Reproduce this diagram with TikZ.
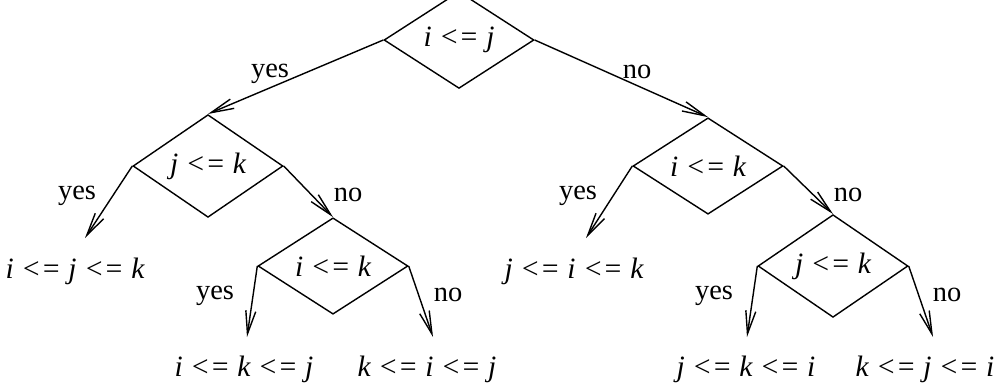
\documentclass[tikz,border=0pt]{standalone}
\usepackage{fontspec}
\setmainfont{Liberation Serif}
\usepackage{tikz}
\usetikzlibrary{
  arrows.meta,
  shapes.geometric,
  positioning
}

\begin{document}
\begin{tikzpicture}[
  x=0.02cm, y=-0.02cm,
  test/.style={diamond, draw=black, line width=0.8pt, inner sep=0pt,
               minimum width=3cm, minimum height=1.48cm,
               font=\fontsize{16.8}{19}\selectfont\itshape},
  leaf/.style={anchor=base, inner sep=0pt,
               font=\fontsize{16.8}{19}\selectfont\itshape},
  answer/.style={inner sep=0pt, font=\fontsize{16.2}{19}\selectfont},
  arr/.style={-{Straight Barb[length=0.46cm, width=0.2cm]}, line width=0.8pt}
]
  \useasboundingbox (0,0) rectangle (1000,383);

  % comparisons
  \node[test] (root) at (459, 40) {i <= j};
  \node[test] (jk)   at (208,166) {j <= k};
  \node[test] (ik)   at (333,266) {i <= k};
  \node[test] (ikr)  at (708,166) {i <= k};
  \node[test] (jkr)  at (833,266) {j <= k};

  % orderings
  \node[leaf] (ijk) at ( 75,278) {i <= j <= k};
  \node[leaf] (ikj) at (244,376) {i <= k <= j};
  \node[leaf] (kij) at (427,376) {k <= i <= j};
  \node[leaf] (jik) at (574,278) {j <= i <= k};
  \node[leaf] (jki) at (746,376) {j <= k <= i};
  \node[leaf] (kji) at (925,376) {k <= j <= i};

  \coordinate (ijk-in) at ( 85,238);
  \coordinate (ikj-in) at (247,337);
  \coordinate (kij-in) at (433,337);
  \coordinate (jik-in) at (586,238);
  \coordinate (jki-in) at (747,337);
  \coordinate (kji-in) at (933,337);

  \draw[arr] (root.west) -- (jk.north);
  \draw[arr] (root.east) -- (ikr.north);
  \draw[arr] (jk.west)   -- (ijk-in);
  \draw[arr] (jk.east)   -- (ik.north);
  \draw[arr] (ik.west)   -- (ikj-in);
  \draw[arr] (ik.east)   -- (kij-in);
  \draw[arr] (ikr.west)  -- (jik-in);
  \draw[arr] (ikr.east)  -- (jkr.north);
  \draw[arr] (jkr.west)  -- (jki-in);
  \draw[arr] (jkr.east)  -- (kji-in);

  % branch labels
  \node[answer] (yes1) at (270, 74) {yes};
  \node[answer] (no1)  at (637, 72) {no};
  \node[answer] (yes2) at ( 77,196) {yes};
  \node[answer] (no2)  at (348,195) {no};
  \node[answer] (yes3) at (215,296) {yes};
  \node[answer] (no3)  at (448,295) {no};
  \node[answer] (yes4) at (578,196) {yes};
  \node[answer] (no4)  at (848,195) {no};
  \node[answer] (yes5) at (714,296) {yes};
  \node[answer] (no5)  at (947,295) {no};
\end{tikzpicture}
\end{document}
